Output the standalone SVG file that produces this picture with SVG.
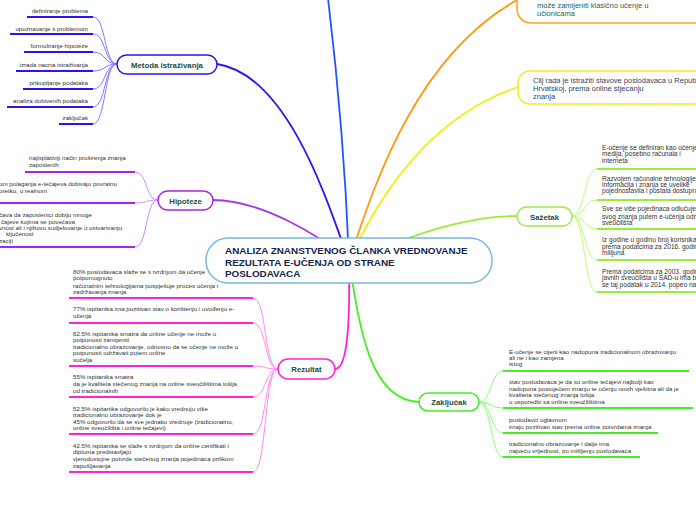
<svg xmlns="http://www.w3.org/2000/svg" width="696" height="520" viewBox="0 0 696 520">
<style>
.t{font-family:"Liberation Sans",Arial,sans-serif;font-size:6.2px;fill:#333}
.s{font-size:6.6px}
.b{font-family:"Liberation Sans",Arial,sans-serif;font-size:7.5px}
.n{font-family:"Liberation Sans",Arial,sans-serif;font-size:7.8px;font-weight:bold;fill:#1b4d3e;text-anchor:middle}
.c{font-family:"Liberation Sans",Arial,sans-serif;font-size:9.9px;font-weight:bold;fill:#14254f}
.m{fill:none;stroke-width:1.8;stroke-linecap:round}
.l{fill:none;stroke-width:1}
.u{stroke-width:2}
.box{fill:#fff;stroke-width:1.5}
</style>
<rect width="696" height="520" fill="#fff"/>
<g id="connectors">
<path class="m" stroke="#2255ff" d="M349,261 C346,180 338,80 327,-10"/>
<path class="m" stroke="#3311ee" d="M349,261 C330,210 290,75 217,64"/>
<path class="m" stroke="#aa33ee" d="M349,261 C320,235 260,200 213,200"/>
<path class="m" stroke="#ff22dd" d="M349,261 C350,320 348,369 335,369"/>
<path class="m" stroke="#ff9911" d="M349,261 C370,200 410,60 517,0"/>
<path class="m" stroke="#eeee00" d="M349,261 C370,215 420,120 518,87"/>
<path class="m" stroke="#99ee33" d="M349,261 C400,240 460,216 517,216"/>
<path class="m" stroke="#44ee22" d="M349,261 C360,330 370,400 419,402"/>
<g stroke="#8877ff" class="l">
<path d="M93,17 C106,17 104,64 117,64"/><path d="M93,34 C106,34 104,64 117,64"/><path d="M93,52 C106,52 104,64 117,64"/><path d="M93,71 C106,71 104,64 117,64"/><path d="M93,89 C106,89 104,64 117,64"/><path d="M93,107 C106,107 104,64 117,64"/><path d="M93,124 C106,124 104,64 117,64"/>
</g>
<g stroke="#3311ee" class="u">
<line x1="27" y1="17" x2="93" y2="17"/><line x1="10" y1="34" x2="93" y2="34"/><line x1="24" y1="52" x2="93" y2="52"/><line x1="16" y1="71" x2="93" y2="71"/><line x1="23" y1="89" x2="93" y2="89"/><line x1="7" y1="107" x2="93" y2="107"/><line x1="59" y1="124" x2="93" y2="124"/>
</g>
<g stroke="#cc88ff" class="l">
<path d="M135,172 C148,172 145,200 158,200"/><path d="M135,203 C148,203 145,200 158,200"/><path d="M135,247 C148,247 145,200 158,200"/>
</g>
<g stroke="#aa22ee" class="u">
<line x1="25" y1="172" x2="135" y2="172"/><line x1="0" y1="203" x2="135" y2="203"/><line x1="0" y1="247" x2="135" y2="247"/>
</g>
<g stroke="#ff88ee" class="l">
<path d="M253,298 C267,298 264,369 278,369"/><path d="M253,323 C267,323 264,369 278,369"/><path d="M253,366 C267,366 264,369 278,369"/><path d="M253,397 C267,397 264,369 278,369"/><path d="M253,434 C267,434 264,369 278,369"/><path d="M253,472 C267,472 264,369 278,369"/>
</g>
<g stroke="#ff22dd" class="u">
<line x1="69" y1="298" x2="253" y2="298"/><line x1="69" y1="323" x2="253" y2="323"/><line x1="69" y1="366" x2="253" y2="366"/><line x1="69" y1="397" x2="253" y2="397"/><line x1="69" y1="434" x2="253" y2="434"/><line x1="69" y1="472" x2="253" y2="472"/>
</g>
<g stroke="#bbff77" class="l">
<path d="M572,216 C585,216 584,169 597,169"/><path d="M572,216 C585,216 584,200 597,200"/><path d="M572,216 C585,216 584,229 597,229"/><path d="M572,216 C585,216 584,260 597,260"/><path d="M572,216 C585,216 584,292 597,292"/>
</g>
<g stroke="#99ee33" class="u">
<line x1="597" y1="169" x2="700" y2="169"/><line x1="597" y1="200" x2="700" y2="200"/><line x1="597" y1="229" x2="700" y2="229"/><line x1="597" y1="260" x2="700" y2="260"/><line x1="597" y1="292" x2="700" y2="292"/>
</g>
<g stroke="#88ff77" class="l">
<path d="M479,402 C491,402 491,371 503,371"/><path d="M479,402 C491,402 491,408 503,408"/><path d="M479,402 C491,402 491,433 503,433"/><path d="M479,402 C491,402 491,457 503,457"/>
</g>
<g stroke="#44ee22" class="u">
<line x1="503" y1="371" x2="689" y2="371"/><line x1="503" y1="408" x2="693" y2="408"/><line x1="503" y1="433" x2="658" y2="433"/><line x1="503" y1="457" x2="640" y2="457"/>
</g>
</g>

<g id="center">
<rect class="box" x="206" y="238" width="286" height="45" rx="22" stroke="#78b8e2"/>
<text class="c" x="225" y="254">ANALIZA ZNANSTVENOG ČLANKA VREDNOVANJE</text>
<text class="c" x="225" y="265.5">REZULTATA E-UČENJA OD STRANE</text>
<text class="c" x="225" y="277">POSLODAVACA</text>
</g>

<g id="metoda">
<rect class="box" x="117" y="55" width="100" height="19" rx="9.5" stroke="#3311ee"/>
<text class="n" x="167" y="67.5">Metoda istraživanja</text>
</g>
<g id="metoda-leaves" class="t" text-anchor="end">
<text x="88" y="13">definiranje problema</text>
<text x="88" y="30.5">upoznavanje s problemom</text>
<text x="88" y="48">formuliranje hipoteze</text>
<text x="88" y="66.5">izrada nacrta istraživanja</text>
<text x="88" y="84.5">prikupljanje podataka</text>
<text x="88" y="102.5">analiza dobivenih podataka</text>
<text x="88" y="120">zaključak</text>
</g>

<g id="hipoteze">
<rect class="box" x="158" y="191" width="55" height="19" rx="9.5" stroke="#aa22ee"/>
<text class="n" x="185.5" y="203.5">Hipoteze</text>
</g>
<g id="hipoteze-leaves" class="t">
<text x="29" y="160">najisplativiji način proširenja znanja</text>
<text x="29" y="167">zaposlenih</text>
<text x="-1" y="186">om polaganja e-tečajeva dobivaju povratnu</text>
<text x="-1" y="193">oretku, u realnom</text>
<text x="-1" y="217">čava da zaposlenici dobiju mnoge</text>
<text x="1" y="223.5">čajeve kojima se povećava</text>
<text x="-1" y="230">vnost ali i njihovo sudjelovanje u ostvarivanju</text>
<text x="6" y="236">ključenost</text>
<text x="-1" y="242.5">zaciji</text>
</g>

<g id="rezultat">
<rect class="box" x="278" y="359" width="57" height="20" rx="10" stroke="#ff22dd"/>
<text class="n" x="306.5" y="372">Rezultat</text>
</g>
<g id="rezultat-leaves" class="t">
<text x="73" y="274">80% poslodavaca slaže se s tvrdnjom da učenje</text>
<text x="73" y="280">potpomognuto</text>
<text x="73" y="288">računalnim tehnologijama pospješuje proces učenja i</text>
<text x="73" y="293.5">zadržavanja znanja</text>
<text x="73" y="311">77% ispitanika ima pozitivan stav o korištenju i uvođenju e-</text>
<text x="73" y="318">učenja</text>
<text x="73" y="336">62.5% ispitanika smatra da online učenje ne može u</text>
<text x="73" y="342">potpunosti zamijeniti</text>
<text x="73" y="349">tradicionalno obrazovanje, odnosno da se učenje ne može u</text>
<text x="73" y="355">potpunosti održavati putem online</text>
<text x="73" y="362">sučelja</text>
<text x="73" y="379">55% ispitanika smatra</text>
<text x="73" y="386">da je kvaliteta stečenog znanja na online sveučilištima lošija</text>
<text x="73" y="393">od tradicionalnih</text>
<text x="73" y="411">52.5% ispitanika odgovorilo je kako vrednuju više</text>
<text x="73" y="417">tradicionalno obrazovanje dok je</text>
<text x="73" y="424">45% odgovorilo da se sve jednako vrednuje (tradicionalno,</text>
<text x="73" y="430">online sveučilišta i online tečajevi)</text>
<text x="73" y="448">42.5% ispitanika se slaže s tvrdnjom da online certifikati i</text>
<text x="73" y="454">diploma predstavljaju</text>
<text x="73" y="461">vjerodostojne potvrde stečenog znanja pojedinaca prilikom</text>
<text x="73" y="468">zapošljavanja</text>
</g>

<g id="top-node">
<rect class="box" x="517" y="-40" width="220" height="63" rx="14" stroke="#ffa020"/>
<text class="b" fill="#2f5e50" x="537" y="8">može zamijeniti klasično učenje u</text>
<text class="b" fill="#2f5e50" x="537" y="16">učionicama</text>
</g>

<g id="cilj">
<rect class="box" x="518" y="71" width="220" height="33" rx="12" stroke="#eeee22"/>
<text class="b" fill="#2b4470" x="533" y="83">Cilj rada je istražiti stavove poslodavaca u Republi</text>
<text class="b" fill="#2b4470" x="533" y="91">Hrvatskoj, prema online stjecanju</text>
<text class="b" fill="#2b4470" x="533" y="99">znanja</text>
</g>

<g id="sazetak">
<rect class="box" x="517" y="207" width="55" height="19" rx="9.5" stroke="#99ee44"/>
<text class="n" x="544.5" y="219.5">Sažetak</text>
</g>
<g id="sazetak-leaves" class="t s">
<text x="602" y="150">E-učenje se definiran kao učenje u</text>
<text x="602" y="156">medija, posebno računala i</text>
<text x="602" y="163">interneta</text>
<text x="602" y="181">Razvojem računalne tehnologije i</text>
<text x="602" y="187">informacija i znanja se uvelike</text>
<text x="602" y="193">pojednostavila i postala dostupna</text>
<text x="602" y="211">Sve se više pojedinaca odlučuje n</text>
<text x="602" y="219">svog znanja putem e-učenja odno</text>
<text x="602" y="225">sveučilišta</text>
<text x="602" y="242">Iz godine u godinu broj korisnika</text>
<text x="602" y="249">prema podatcima za 2016. godinu</text>
<text x="602" y="255">milijuna</text>
<text x="602" y="274">Prema podatcima za 2003. godinu</text>
<text x="602" y="280">javnih sveučilišta u SAD-u ima ba</text>
<text x="602" y="287">se taj podatak u 2014. popeo na</text>
</g>

<g id="zakljucak">
<rect class="box" x="419" y="393" width="60" height="18" rx="9" stroke="#44ee22"/>
<text class="n" x="449" y="405">Zaključak</text>
</g>
<g id="zakljucak-leaves" class="t">
<text x="509" y="354">E-učenje se cijeni kao nadopuna tradicionalnom obrazovanju</text>
<text x="509" y="359.5">ali ne i kao zamjena</text>
<text x="509" y="365.5">istog</text>
<text x="509" y="384">stav poslodavaca je da su online tečajevi najbolji kao</text>
<text x="509" y="391">nadopuna postojećem znanju te učenju novih vještina ali da je</text>
<text x="509" y="397">kvaliteta stečenog znanja lošija</text>
<text x="509" y="404">u usporedbi sa online sveučilištima</text>
<text x="509" y="422">poslodavci uglavnom</text>
<text x="509" y="428.5">imaju pozitivan stav prema online potvrdama znanja</text>
<text x="509" y="446">tradicionalno obrazovanje i dalje ima</text>
<text x="509" y="453">najveću vrijednost, po mišljenju poslodavaca</text>
</g>
</svg>
